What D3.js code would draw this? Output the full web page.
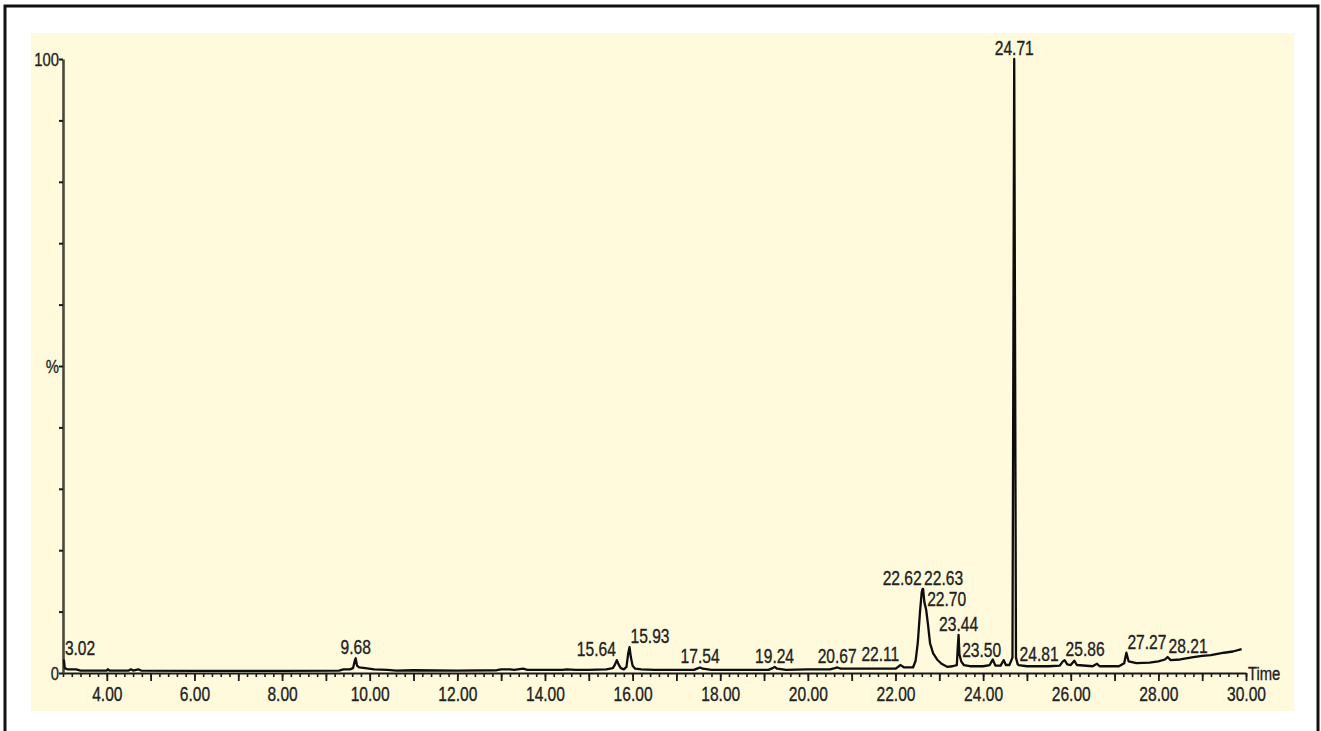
<!DOCTYPE html>
<html>
<head>
<meta charset="utf-8">
<script src="https://cdn.jsdelivr.net/npm/d3@7"></script>
<style>
  body { margin: 0; background: #fff; }
  .narrow { font-family: "Liberation Sans Narrow", "Arial Narrow", "Liberation Sans", Arial, sans-serif;
            fill: #222; stroke: #222; stroke-width: 0.35px; }
</style>
</head>
<body>
<svg id="chart" width="1321" height="731"></svg>
<script>
// Chromatogram trace (retention time in minutes, relative intensity %)
var traceTime = [
  3.02, 3.04, 3.10, 3.30, 3.40, 4.00, 4.02, 4.06, 4.50, 4.55, 4.60, 4.72, 4.78, 6.00, 8.00,
  9.30, 9.40, 9.55, 9.62, 9.66, 9.68, 9.71, 9.76, 9.90, 10.10, 10.40, 10.60, 11.00, 12.00,
  12.90, 13.00, 13.20, 13.30, 13.50, 13.60, 14.40, 14.50, 14.70, 15.00, 15.40, 15.55, 15.60,
  15.64, 15.68, 15.73, 15.80, 15.86, 15.90, 15.93, 15.96, 16.00, 16.06, 16.20, 16.50, 17.40,
  17.50, 17.54, 17.60, 17.80, 19.10, 19.20, 19.24, 19.30, 19.50, 20.00, 20.50, 20.62, 20.67,
  20.75, 21.20, 22.00, 22.06, 22.11, 22.20, 22.40, 22.46, 22.51, 22.56, 22.60, 22.62, 22.63,
  22.66, 22.70, 22.74, 22.79, 22.86, 22.95, 23.05, 23.18, 23.30, 23.40, 23.42, 23.44, 23.46,
  23.50, 23.56, 23.70, 24.00, 24.15, 24.22, 24.28, 24.40, 24.47, 24.52, 24.60, 24.67, 24.71,
  24.75, 24.79, 24.81, 25.00, 25.50, 25.75, 25.82, 25.86, 25.92, 26.00, 26.08, 26.14, 26.50,
  26.60, 26.66, 27.10, 27.22, 27.27, 27.32, 27.50, 27.80, 28.00, 28.15, 28.21, 28.28, 28.50,
  28.80, 29.00, 29.20, 29.50, 29.70, 29.90
];
var traceIntensity = [
  2.2, 0.8, 0.6, 0.6, 0.4, 0.4, 0.6, 0.4, 0.4, 0.6, 0.4, 0.6, 0.4, 0.35, 0.35,
  0.4, 0.6, 0.6, 0.8, 2.0, 2.4, 1.2, 0.9, 0.8, 0.6, 0.5, 0.4, 0.45, 0.4,
  0.45, 0.6, 0.6, 0.5, 0.7, 0.5, 0.5, 0.6, 0.5, 0.5, 0.6, 0.8, 1.4,
  2.1, 1.4, 0.8, 0.6, 1.0, 3.2, 4.2, 2.6, 1.2, 0.7, 0.6, 0.5, 0.5,
  0.8, 0.9, 0.7, 0.5, 0.5, 0.8, 1.0, 0.7, 0.5, 0.6, 0.6, 0.8, 0.9,
  0.7, 0.7, 0.7, 1.0, 1.3, 0.9, 0.9, 2.0, 5.0, 10.0, 13.2, 13.7, 13.7,
  11.5, 10.3, 8.0, 4.8, 3.2, 2.2, 1.5, 1.0, 1.1, 1.3, 4.0, 6.2, 3.0,
  1.9, 1.3, 1.1, 1.1, 1.3, 2.2, 1.2, 1.2, 2.1, 1.3, 1.3, 2.5, 100,
  2.5, 1.4, 1.3, 1.1, 1.1, 1.2, 1.9, 2.1, 1.4, 1.3, 2.0, 1.3, 1.1,
  1.5, 1.1, 1.1, 1.6, 3.3, 1.9, 1.6, 1.7, 1.9, 2.2, 2.6, 2.1, 2.2,
  2.6, 2.8, 2.9, 3.3, 3.5, 3.9
];

// Labelled peaks
var peakTimes = [3.02, 9.68, 15.64, 15.93, 17.54, 19.24, 20.67, 22.11, 22.62, 22.63,
                 22.70, 23.44, 23.50, 24.71, 24.81, 25.86, 27.27, 28.21];

// Axis ticks
var xLabelTicks = [4, 6, 8, 10, 12, 14, 16, 18, 20, 22, 24, 26, 28, 30];
var yTicks = [0, 10, 20, 30, 40, 50, 60, 70, 80, 90, 100];
var yTickLabels = { 0: "0", 50: "%", 100: "100" };

var trace = traceTime.map(function(t, i) { return { t: t, v: traceIntensity[i] }; });

var svg = d3.select("#chart");

// outer frame and plot background
svg.append("rect")
  .attr("x", 5).attr("y", 6).attr("width", 1313).attr("height", 760)
  .attr("fill", "#fff").attr("stroke", "#111").attr("stroke-width", 3);
svg.append("rect")
  .attr("x", 31).attr("y", 33).attr("width", 1263).attr("height", 678)
  .attr("fill", "#fffadc");

var x = d3.scaleLinear().domain([3, 30]).range([63, 1246]);
var y = d3.scaleLinear().domain([0, 100]).range([673, 59]);

// x axis: minor ticks every 0.2, longer every 1, labels every 2
svg.append("g")
  .attr("transform", "translate(0," + y(0) + ")")
  .call(d3.axisBottom(x).tickValues(d3.range(3, 30.01, 0.2).map(function(d) { return Math.round(d * 10) / 10; }))
    .tickSize(4).tickSizeOuter(0).tickFormat(""))
  .call(function(g) {
    g.select(".domain").attr("stroke", "#1a1a1a").attr("stroke-width", 2.2);
    g.selectAll(".tick line").attr("stroke", "#1a1a1a").attr("stroke-width", 1.6);
  });

svg.append("g")
  .attr("transform", "translate(0," + y(0) + ")")
  .call(d3.axisBottom(x).tickValues(d3.range(4, 31, 1)).tickSize(8).tickSizeOuter(0)
    .tickFormat(function(d) { return xLabelTicks.indexOf(d) >= 0 ? d.toFixed(2) : ""; }))
  .call(function(g) {
    g.select(".domain").remove();
    g.selectAll(".tick line").attr("stroke", "#1a1a1a").attr("stroke-width", 1.8);
    g.selectAll(".tick text").attr("class", "narrow").attr("y", 14).attr("dy", "0.71em")
      .style("font-size", "20px");
  });

svg.append("text")
  .attr("class", "narrow")
  .attr("x", 1248).attr("y", y(0) + 7)
  .style("font-size", "19px")
  .text("Time");

// y axis
svg.append("g")
  .attr("transform", "translate(" + x(3) + ",0)")
  .call(d3.axisLeft(y).tickValues(yTicks).tickSize(4).tickSizeOuter(0)
    .tickFormat(function(d) { return yTickLabels[d] || ""; }))
  .call(function(g) {
    g.select(".domain").attr("stroke", "#4a4938").attr("stroke-width", 2.6);
    g.selectAll(".tick line").attr("stroke", "#1a1a1a").attr("stroke-width", 2);
    g.selectAll(".tick text").attr("class", "narrow").attr("x", -4)
      .style("font-size", "19px");
  });

// chromatogram trace
var line = d3.line()
  .x(function(d) { return x(d.t); })
  .y(function(d) { return y(d.v); });

svg.append("path")
  .datum(trace)
  .attr("fill", "none")
  .attr("stroke", "#0d0d0d")
  .attr("stroke-width", 2.3)
  .attr("stroke-linejoin", "round")
  .attr("d", line);

// peak labels: placed at apex, shifted sideways where crowded
var anchorOf = {
  "3.02": "start", "15.64": "end", "15.93": "start", "22.11": "end", "22.62": "end",
  "22.63": "start", "22.70": "start", "23.50": "start", "24.81": "start", "25.86": "start",
  "27.27": "start", "28.21": "start"
};
function apex(t) {
  var i = traceTime.indexOf(t);
  if (i >= 0) return traceIntensity[i];
  var j = d3.bisectLeft(traceTime, t);
  var a = trace[j - 1], b = trace[j];
  return a.v + (b.v - a.v) * (t - a.t) / (b.t - a.t);
}

svg.selectAll(".peak-label")
  .data(peakTimes)
  .enter().append("text")
  .attr("class", "narrow peak-label")
  .attr("x", function(d) { return x(d); })
  .attr("dx", function(d) {
    var a = anchorOf[d.toFixed(2)];
    return a === "start" ? 1 : a === "end" ? -1 : 0;
  })
  .attr("y", function(d) { return y(apex(d)) - 4; })
  .attr("text-anchor", function(d) { return anchorOf[d.toFixed(2)] || "middle"; })
  .style("font-size", "20px")
  .text(function(d) { return d.toFixed(2); });

// condensed look: squeeze every label so that "24.71" at 20px is about 39px wide
var probe = svg.append("text").attr("class", "narrow").style("font-size", "20px").text("24.71");
var squeeze = Math.min(1, 39 / probe.node().getComputedTextLength());
probe.remove();
svg.selectAll("text.narrow").each(function() {
  var len = this.getComputedTextLength();
  if (len > 0) {
    d3.select(this).attr("textLength", len * squeeze).attr("lengthAdjust", "spacingAndGlyphs");
  }
});
</script>
</body>
</html>
